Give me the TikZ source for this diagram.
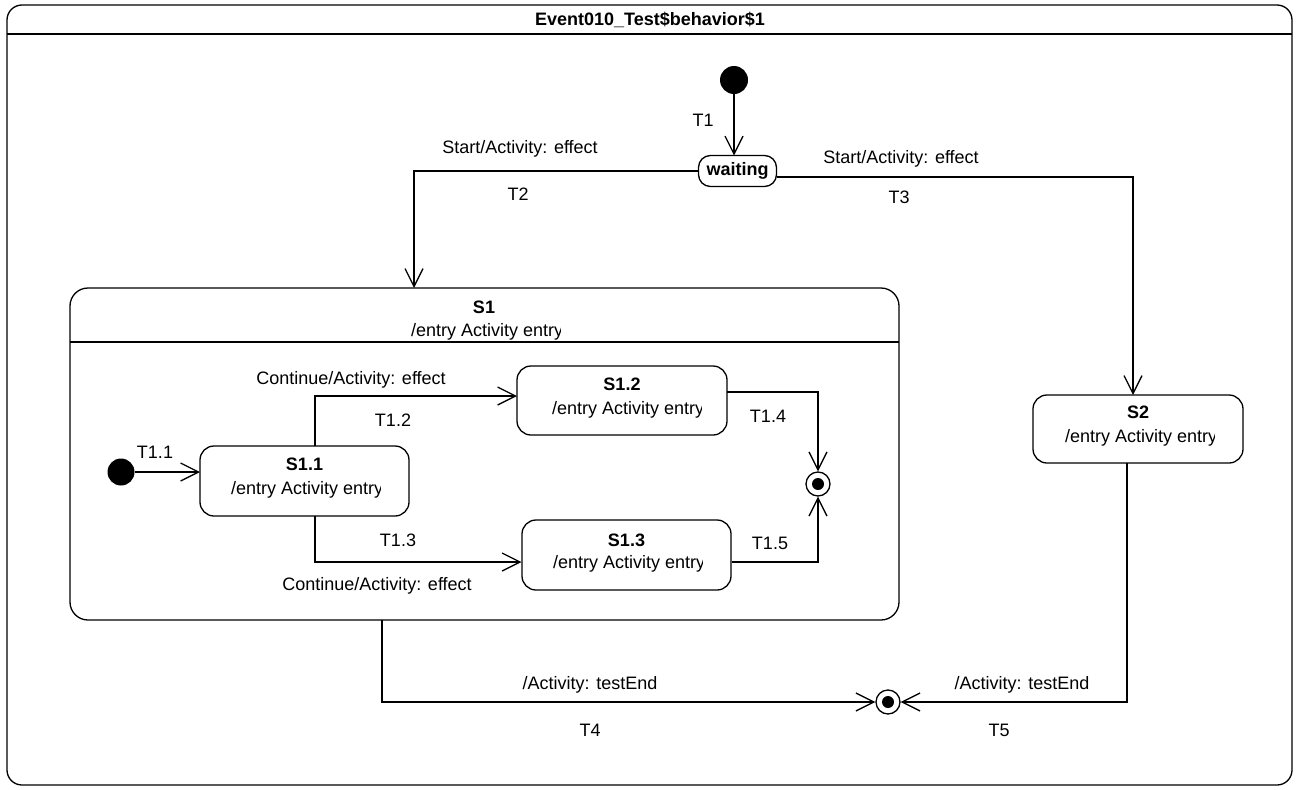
\documentclass[tikz,border=0pt]{standalone}
\usepackage{fontspec}
\setmainfont{Liberation Sans}
\usetikzlibrary{arrows.meta,calc}
\begin{document}
\begin{tikzpicture}[x=1pt,y=-1pt,
  txt/.style={font=\fontsize{18}{21}\selectfont, inner sep=0pt},
  bold/.style={font=\fontsize{18}{21}\selectfont\bfseries, inner sep=0pt},
  box/.style={draw, line width=1.3pt, rounded corners=14pt, inner sep=0pt},
  tr/.style={line width=1.3pt, -{Straight Barb[length=18pt,width=18pt,line width=1.3pt]}},
  initst/.style={circle, fill=black, inner sep=0pt, minimum size=#1},
  finout/.style={circle, draw, line width=1.3pt, fill=white, inner sep=0pt, minimum size=24pt},
  finin/.style={circle, fill=black, inner sep=0pt, minimum size=12pt}
]
\useasboundingbox (0,0) rectangle (1299,790);
% outer frame
\node[box, rounded corners=15pt, minimum width=1285pt, minimum height=780pt] (frame) at (649.5,395) {};
\coordinate (hl) at (7,34); \coordinate (hr) at (1292,34);
\draw[line width=1.3pt] (hl) -- (hr);
\node[bold] (title) at (650,20) {Event010\_Test\$behavior\$1};

% top level
\node[initst=28pt] (init) at (734,80) {};
\node[box, rounded corners=12pt, minimum width=78pt, minimum height=31pt, font=\fontsize{18}{21}\selectfont\bfseries] (waiting) at (737.5,171) {waiting};

% S1
\node[box, rounded corners=18pt, minimum width=829pt, minimum height=332pt] (S1) at (484.5,454) {};
\coordinate (s1l) at (70,342); \coordinate (s1r) at (899,342);
\draw[line width=1.3pt] (s1l) -- (s1r);
\node[bold] (S1name) at (484,307) {S1};
\begin{scope}
  \clip (411,320) rectangle (560,345);
  \node[txt, anchor=west] (S1entry) at (411,332) {/entry Activity entry};
\end{scope}

% S2
\node[box, minimum width=210pt, minimum height=68pt] (S2) at (1138,429) {};
\node[bold] (S2name) at (1138,412) {S2};
\begin{scope}
  \clip (1065,425) rectangle (1214,452);
  \node[txt, anchor=west] (S2entry) at (1065,438) {/entry Activity entry};
\end{scope}

% inner states
\node[box, minimum width=209pt, minimum height=70pt] (S11) at (304.5,481) {};
\node[bold] (S11name) at (304.5,464) {S1.1};
\begin{scope}
  \clip (231,477) rectangle (380,504);
  \node[txt, anchor=west] (S11entry) at (231,490) {/entry Activity entry};
\end{scope}

\node[box, minimum width=210pt, minimum height=69pt] (S12) at (622,400.5) {};
\node[bold] (S12name) at (622,384) {S1.2};
\begin{scope}
  \clip (552,397) rectangle (701,424);
  \node[txt, anchor=west] (S12entry) at (552,410) {/entry Activity entry};
\end{scope}

\node[box, minimum width=209pt, minimum height=70pt] (S13) at (626.5,555) {};
\node[bold] (S13name) at (626.5,540) {S1.3};
\begin{scope}
  \clip (553,551) rectangle (702,578);
  \node[txt, anchor=west] (S13entry) at (553,564) {/entry Activity entry};
\end{scope}

\node[initst=27pt] (init2) at (121,472) {};
\node[finout] (fin2) at (818,484) {};
\node[finin] (fin2c) at (818,484) {};
\node[finout] (fin) at (888,702) {};
\node[finin] (finc) at (888,702) {};

% connectors
\coordinate (t1end) at (734,155.5);
\draw[tr] (init) -- (t1end);
\coordinate (t2end) at (414,288);
\draw[tr] (waiting.west) -| (t2end);
\coordinate (t3start) at (776.5,177);
\coordinate (t3end) at (1133,395);
\draw[tr] (t3start) -| (t3end);
\coordinate (t4start) at (382,620);
\draw[tr] (t4start) |- (fin.west);
\coordinate (t5start) at (1127,463);
\draw[tr] (t5start) |- (fin.east);

\coordinate (t11end) at (200,472);
\draw[tr] (init2) -- (t11end);
\coordinate (t12start) at (315,446);
\coordinate (t12end) at (517,396);
\draw[tr] (t12start) |- (t12end);
\coordinate (t13start) at (315,516);
\coordinate (t13end) at (521.5,562);
\draw[tr] (t13start) |- (t13end);
\coordinate (t14start) at (727,392);
\draw[tr] (t14start) -| (fin2.north);
\coordinate (t15start) at (731.5,562);
\draw[tr] (t15start) -| (fin2.south);

% labels
\node[txt] (lT1) at (703,120) {T1};
\node[txt] (lT2a) at (520,149) {Start/Activity: effect};
\node[txt] (lT2) at (518,194) {T2};
\node[txt] (lT3a) at (901,159) {Start/Activity: effect};
\node[txt] (lT3) at (899,197) {T3};
\node[txt] (lT12a) at (351,380) {Continue/Activity: effect};
\node[txt] (lT12) at (393,420) {T1.2};
\node[txt] (lT11) at (155,452) {T1.1};
\node[txt] (lT14) at (768,416) {T1.4};
\node[txt] (lT13) at (398,540) {T1.3};
\node[txt] (lT15) at (770,543) {T1.5};
\node[txt] (lT13a) at (377,586) {Continue/Activity: effect};
\node[txt] (lT4a) at (590,685) {/Activity: testEnd};
\node[txt] (lT4) at (590,730) {T4};
\node[txt] (lT5a) at (1022,685) {/Activity: testEnd};
\node[txt] (lT5) at (999,730) {T5};
\end{tikzpicture}
\end{document}
